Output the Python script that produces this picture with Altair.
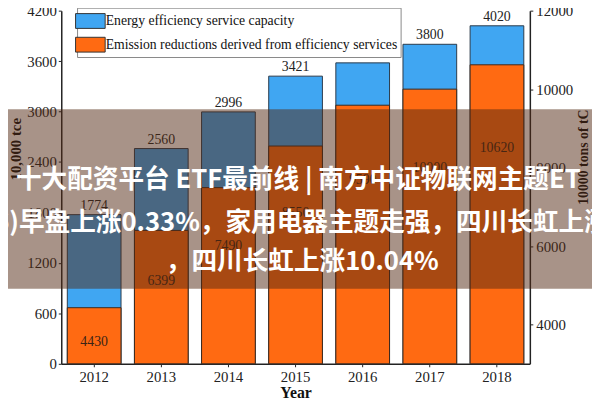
import altair as alt
import pandas as pd

years = ["2012", "2013", "2014", "2015", "2016", "2017", "2018"]
capacity = [1774, 2560, 2996, 3421, 3579, 3800, 4020]
reductions = [4430, 6399, 7490, 8550, 9590, 10000, 10620]
series_names = ["Energy efficiency service capacity",
                "Emission reductions derived from efficiency services"]
series_colors = ["#40A6F2", "#FF6A12"]
left_ticks = [0, 600, 1200, 1800, 2400, 3000, 3600, 4200]
right_ticks = [4000, 6000, 8000, 10000, 12000]
left_domain = [0, 4200]
right_domain = [3000, 12000]
overlay_lines = ["十大配资平台 ETF最前线 | 南方中证物联网主题ET",
                 "6)早盘上涨0.33%，家用电器主题走强，四川长虹上涨",
                 "，四川长虹上涨10.04%"]

df = pd.DataFrame({"year": years, "capacity": capacity, "reduction": reductions})
df["s_blue"] = series_names[0]
df["s_orange"] = series_names[1]

SERIF = "Liberation Serif"

xenc = alt.X("year:O", title="Year",
             scale=alt.Scale(paddingInner=0.2, paddingOuter=0.09),
             axis=alt.Axis(labelAngle=0, labelFontSize=15, titleFontSize=16,
                           titleFontWeight="bold", tickSize=3, labelPadding=3,
                           titlePadding=0, domainColor="#222", tickColor="#222",
                           domainWidth=1.5))

color_scale = alt.Scale(domain=series_names, range=series_colors)
legend = alt.Legend(title=None, orient="none", legendX=16, legendY=-3,
                    direction="vertical",
                    symbolType="M-1.5,-0.75H1.5V0.75H-1.5Z", symbolSize=400,
                    symbolStrokeColor="#333", symbolStrokeWidth=1,
                    labelFont=SERIF, labelFontSize=13.9, labelColor="#111",
                    labelLimit=500, labelOffset=5, rowPadding=4,
                    strokeColor="#888", fillColor="white", padding=3)

base = alt.Chart(df)

blue_bars = base.mark_bar(stroke="#2b3a4a", strokeWidth=1).encode(
    x=xenc,
    y=alt.Y("capacity:Q", scale=alt.Scale(domain=left_domain, nice=False, zero=True),
            axis=alt.Axis(values=left_ticks, format="d", title="10,000 tce", orient="left",
                          titleFontSize=15, titleFontWeight="bold", titleAngle=270,
                          titleX=-46, titleY=140, titleBaseline="middle",
                          titleAlign="center",
                          labelFontSize=15, tickSize=3, grid=False, labelPadding=2,
                          domainColor="#222", tickColor="#222", domainWidth=1.5)),
    color=alt.Color("s_blue:N", scale=color_scale, legend=legend),
)

blue_labels = base.mark_text(font=SERIF, fontSize=14, baseline="bottom", dy=-2,
                             color="#222").encode(
    x=xenc,
    y=alt.Y("capacity:Q", scale=alt.Scale(domain=left_domain, nice=False), axis=None),
    text=alt.Text("capacity:Q", format="d"),
)

orange_bars = base.mark_bar(stroke="#3a2a20", strokeWidth=1).encode(
    x=xenc,
    y=alt.Y("reduction:Q", scale=alt.Scale(domain=right_domain, nice=False, zero=False),
            axis=alt.Axis(values=right_ticks, format="d", title="10000 tons of tC",
                          orient="right",
                          titleFontSize=14, titleFontWeight="bold", titleAngle=270,
                          titleX=54, titleY=148, titleBaseline="middle",
                          titleAlign="center",
                          labelFontSize=15, tickSize=3, grid=False, labelPadding=3,
                          domainColor="#222", tickColor="#222", domainWidth=1.5)),
    y2=alt.datum(right_domain[0]),
    color=alt.Color("s_orange:N", scale=color_scale, legend=legend),
)

orange_labels = base.transform_calculate(ly="datum.reduction * 0.8").mark_text(
    font=SERIF, fontSize=14, baseline="middle", color="#3a2415").encode(
    x=xenc,
    y=alt.Y("ly:Q", scale=alt.Scale(domain=right_domain, nice=False, zero=False), axis=None),
    text=alt.Text("reduction:Q", format="d"),
)

one = pd.DataFrame({"k": [0]})
overlay = alt.Chart(one).mark_rect(color="#512711", opacity=0.5).encode(
    x=alt.value(-62), x2=alt.value(540), y=alt.value(100), y2=alt.value(282))

txt_style = dict(font="Noto Sans CJK SC", fontWeight="bold", fontSize=26,
                 color="white", align="left", baseline="middle")
t1 = alt.Chart(one).mark_text(text=overlay_lines[0], **txt_style).encode(
    x=alt.value(-46), y=alt.value(172))
t2 = alt.Chart(one).mark_text(text=overlay_lines[1], **txt_style).encode(
    x=alt.value(-68), y=alt.value(215))
t3 = alt.Chart(one).mark_text(text=overlay_lines[2], **txt_style).encode(
    x=alt.value(106), y=alt.value(255))

chart = alt.layer(blue_bars, blue_labels, orange_bars, orange_labels,
                  overlay, t1, t2, t3).resolve_scale(y="independent").properties(
    width=475, height=358,
    autosize=alt.AutoSizeParams(type="none"),
    padding={"left": 54, "top": 0, "right": 63, "bottom": 34},
    background="white",
).configure_view(strokeWidth=0).configure_axis(
    labelFont=SERIF, titleFont=SERIF, labelColor="#222", titleColor="#111", grid=False
)

chart.save("out.html", embed_options={"renderer": "svg", "actions": False})
